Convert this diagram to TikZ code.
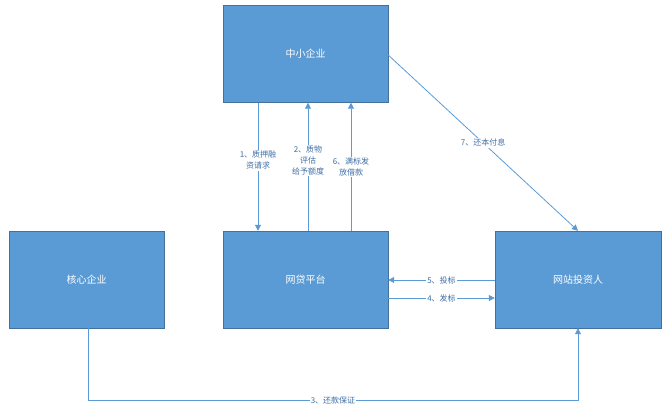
\documentclass[tikz,border=0pt]{standalone}
\usepackage{fontspec}
\newfontfamily\cjk{Noto Sans CJK SC}
\usetikzlibrary{arrows.meta}
\definecolor{bx}{HTML}{5B9BD5}
\definecolor{bd}{HTML}{41719C}
\definecolor{lt}{HTML}{3F6FA8}
\begin{document}
\begin{tikzpicture}[x=1pt,y=-1pt,
 box/.style={draw=bd,fill=bx,minimum width=165pt,minimum height=97pt,text=white,font=\cjk\fontsize{10}{12}\selectfont,inner sep=0pt},
 arr/.style={draw=bx,line width=0.8pt,-{Triangle[length=6pt,width=6pt]}},
 lbl/.style={fill=white,text=lt,font=\cjk\fontsize{8}{11}\selectfont,align=center,inner sep=1pt}]
\useasboundingbox (0,0) rectangle (671,416);
\node[box] (smb) at (305.5,54) {中小企业};
\node[box,minimum width=155pt] (core) at (86.5,279.5) {核心企业};
\node[box] (p2p) at (305.5,279.5) {网贷平台};
\node[box,minimum width=166pt] (inv) at (578,279.5) {网站投资人};
\draw[arr] (smb.south -| 258,0) -- (p2p.north -| 258,0) node[lbl,pos=0.45] {1、质押融\\资请求};
\draw[arr] (p2p.north -| 308,0) -- (smb.south -| 308,0) node[lbl,pos=0.55] {2、质物\\评估\\给予额度};
\draw[arr] (p2p.north -| 351,0) -- (smb.south -| 351,0) node[lbl,pos=0.5] {6、满标发\\放借款};
\draw[arr] (smb.east |- 0,55) -- (inv.north) node[lbl,pos=0.5] {7、还本付息};
\draw[arr] (inv.west |- 0,280) -- (p2p.east |- 0,280) node[lbl,pos=0.5] {5、投标};
\draw[arr] (p2p.east |- 0,298) -- (inv.west |- 0,298) node[lbl,pos=0.5] {4、发标};
\coordinate (c1) at (88,400);
\coordinate (c2) at (578,400);
\draw[arr] (core.south -| 88,0) -- (c1) -- node[lbl] {3、还款保证} (c2) -- (inv.south);
\end{tikzpicture}
\end{document}
